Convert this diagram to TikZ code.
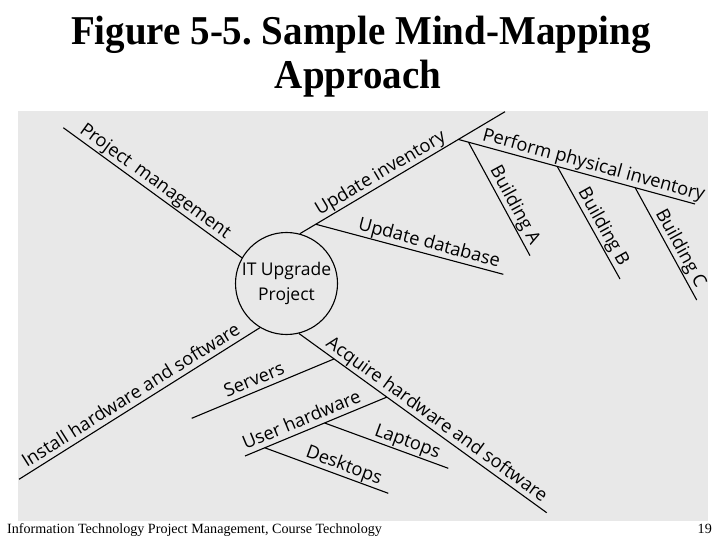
\documentclass[tikz,border=0pt]{standalone}
\usepackage{fontspec}
\setmainfont{Liberation Serif}
\newfontfamily\lblfont{Open Sans}
\usetikzlibrary{calc}
\definecolor{bgcol}{RGB}{232,232,232}
\frenchspacing
\begin{document}
\begin{tikzpicture}[x=1pt,y=-1pt,
  branch/.style={line width=1.1pt},
  lbl/.style={font=\lblfont\fontsize{18.3}{21}\selectfont, sloped, above,
    inner sep=1pt, text height=13.5pt, text depth=4pt},
  hub/.style={draw, circle, line width=1.1pt, minimum size=102pt, inner sep=0pt,
    align=center, font=\lblfont\fontsize{17.5}{25}\selectfont},
  ttl/.style={anchor=base, font=\bfseries\fontsize{39}{44}\selectfont, inner sep=0pt, yscale=1.05}
]
\useasboundingbox (0,0) rectangle (720,540);
\fill[bgcol] (18,111) rectangle (708,521);

% title and footer
\node[ttl] (t1) at (361,44.5) {Figure 5-5. Sample Mind-Mapping};
\node[ttl] (t2) at (358,88.5) {Approach};
\node[anchor=base west, font=\fontsize{14.1}{16}\selectfont, inner sep=0pt] (foot) at (7,533) {Information Technology Project Management, Course Technology};
\node[anchor=base east, font=\fontsize{14.1}{16}\selectfont, inner sep=0pt] (pg) at (712,533) {19};

% central topic
\node[hub] (c) at (286.5,283.5) {IT Upgrade\\Project};

% end points
\coordinate (pmE) at (63.3,127.7);
\coordinate (uiE) at (505,111.7);
\coordinate (udE) at (503.3,274.3);
\coordinate (ppE) at (695,204);
\coordinate (baE) at (530,255.7);
\coordinate (bbE) at (620,279);
\coordinate (bcE) at (696.7,300);
\coordinate (acE) at (546.7,512.7);
\coordinate (svE) at (191.7,418.3);
\coordinate (uhE) at (245,456);
\coordinate (lpE) at (448.3,468.3);
\coordinate (dtE) at (388.3,493.3);
\coordinate (ihE) at (19,479.3);

% junctions
\coordinate (udJ) at ($(c.75)!(315,223)!(uiE)$);
\coordinate (ppJ) at ($(c.75)!(458.3,139.3)!(uiE)$);
\coordinate (baJ) at ($(ppJ)!(468.3,142.7)!(ppE)$);
\coordinate (bbJ) at ($(ppJ)!(556.7,168.3)!(ppE)$);
\coordinate (bcJ) at ($(ppJ)!(635,188.3)!(ppE)$);
\coordinate (svJ) at ($(c.284)!(333.3,360)!(acE)$);
\coordinate (uhJ) at ($(c.284)!(386,398.3)!(acE)$);
\coordinate (lpJ) at ($(uhE)!(325,424)!(uhJ)$);
\coordinate (dtJ) at ($(uhE)!(265,448.3)!(uhJ)$);

% branches
\draw[branch] (pmE) -- (c.150) node[lbl, pos=0.48] {Project\hspace{0.45em}management};
\draw[branch] (c.75) -- (uiE) node[lbl, pos=0.42] {Update inventory};
\draw[branch] (udJ) -- (udE) node[lbl, pos=0.59] {Update database};
\draw[branch] (ppJ) -- (ppE) node[lbl, pos=0.56] {Perform physical inventory};
\draw[branch] (baJ) -- (baE) node[lbl, pos=0.6] {Building A};
\draw[branch] (bbJ) -- (bbE) node[lbl, pos=0.585] {Building B};
\draw[branch] (bcJ) -- (bcE) node[lbl, pos=0.586] {Building C};
\draw[branch] (c.284) -- (acE) node[lbl, pos=0.53] {Acquire hardware and software};
\draw[branch] (svE) -- (svJ) node[lbl, pos=0.47] {Servers};
\draw[branch] (uhE) -- (uhJ) node[lbl, pos=0.43] {User hardware};
\draw[branch] (lpJ) -- (lpE) node[lbl, pos=0.64] {Laptops};
\draw[branch] (dtJ) -- (dtE) node[lbl, pos=0.61] {Desktops};
\draw[branch] (ihE) -- (c.239) node[lbl, pos=0.49] {Install hardware and software};
\end{tikzpicture}
\end{document}
